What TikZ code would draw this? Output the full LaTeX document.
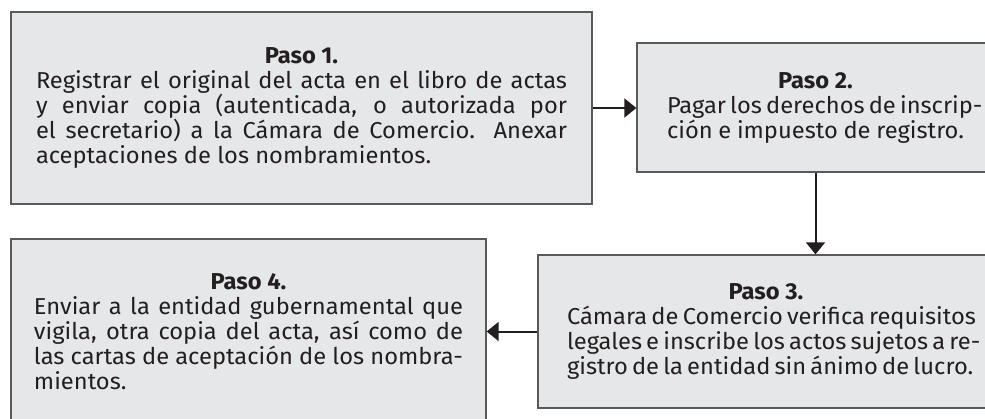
\documentclass[tikz,border=0pt]{standalone}
\usepackage{fontspec}
\setmainfont{Fira Sans}[FakeStretch=1.03]
\usetikzlibrary{arrows.meta}
\definecolor{boxfill}{HTML}{E6E7E8}
\definecolor{boxline}{HTML}{58595B}
\definecolor{ink}{HTML}{231F20}
\newcommand{\jline}[2]{\hbox to #1pt{#2}}
\newcommand{\lline}[2]{\hbox to #1pt{#2\hfil}}
\newcommand{\tline}[2]{\hbox to #1pt{\hfil\bfseries #2\hfil}}
\begin{document}
\begin{tikzpicture}[x=1pt,y=-1pt,
  stepbox/.style={draw=boxline, fill=boxfill, line width=1.3pt, inner sep=0pt,
    align=left, font=\fontsize{23}{25}\selectfont, text=ink},
  arr/.style={draw=ink, line width=2pt, -{Triangle[length=12pt,width=19pt]}}]
\useasboundingbox (0,0) rectangle (985,418);
\node[stepbox, minimum width=581pt, minimum height=192pt] (b1) at (301.5,108)
 {\tline{531}{Paso 1.}\\
  \jline{531}{Registrar el original del acta en el libro de actas}\\
  \jline{531}{y enviar copia (autenticada, o autorizada por}\\
  \jline{531}{el secretario) a la Cámara de Comercio. Anexar}\\
  \lline{531}{aceptaciones de los nombramientos.}};
\node[stepbox, minimum width=357pt, minimum height=129pt] (b2) at (815.5,107.5)
 {\tline{297}{Paso 2.}\\
  \jline{297}{Pagar los derechos de inscrip-}\\
  \jline{297}{ción e impuesto de registro.}};
\node[stepbox, minimum width=456pt, minimum height=153pt] (b3) at (766,331.5)
 {\tline{398}{Paso 3.}\\
  \jline{398}{Cámara de Comercio verifica requisitos}\\
  \jline{398}{legales e inscribe los actos sujetos a re-}\\
  \jline{398}{gistro de la entidad sin ánimo de lucro.}};
\node[stepbox, minimum width=475pt, minimum height=186pt] (b4) at (248.5,332)
 {\tline{429}{Paso 4.}\\
  \jline{429}{Enviar a la entidad gubernamental que}\\
  \jline{429}{vigila, otra copia del acta, así como de}\\
  \jline{429}{las cartas de aceptación de los nombra-}\\
  \lline{429}{mientos.}};
\draw[arr] (b1.east) -- (b1.east -| b2.west);
\draw[arr] (b2.south) -- (b2.south |- b3.north);
\draw[arr] (b3.west) -- (b3.west -| b4.east);
\end{tikzpicture}
\end{document}
